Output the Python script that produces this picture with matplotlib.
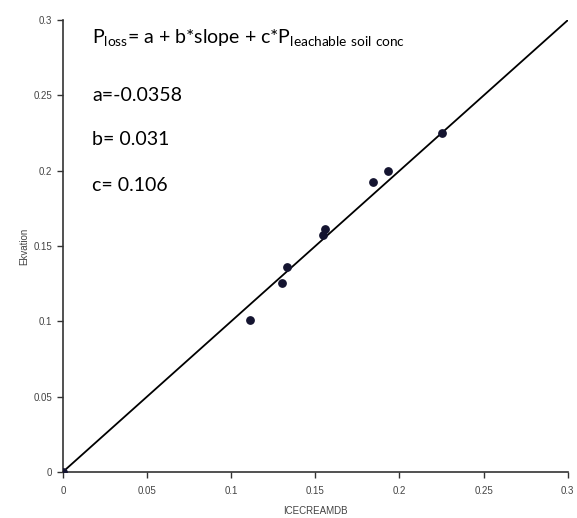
import numpy as np
import matplotlib.pyplot as plt
from matplotlib.ticker import MultipleLocator

plt.rcParams['font.family'] = ['Liberation Sans', 'DejaVu Sans']
plt.rcParams['mathtext.fontset'] = 'custom'
plt.rcParams['mathtext.rm'] = 'Lato'

icecream = [0.0, 0.111, 0.130, 0.1334, 0.1546, 0.1556, 0.1843, 0.1932, 0.2255]
ekvation = [0.0, 0.101, 0.1257, 0.1363, 0.1574, 0.1614, 0.1928, 0.2001, 0.2249]
line_x = [0.0, 0.3]
line_y = [0.0, 0.3]
tick_vals = [0, 0.05, 0.1, 0.15, 0.2, 0.25, 0.3]
tick_labels = ['0', '0.05', '0.1', '0.15', '0.2', '0.25', '0.3']

fig = plt.figure(figsize=(5.77, 5.18), dpi=100)
ax = fig.add_axes([0.109, 0.089, 0.875, 0.872])

ax.plot(line_x, line_y, color='black', lw=1.3)
ax.scatter(icecream, ekvation, color='#141430', s=28, zorder=3)

ax.set_xlim(0, 0.3)
ax.set_ylim(0, 0.3)
ax.set_xticks(tick_vals)
ax.set_xticklabels(tick_labels)
ax.set_yticks(tick_vals)
ax.set_yticklabels(tick_labels)

for s in ['top', 'right']:
    ax.spines[s].set_visible(False)
for s in ['left', 'bottom']:
    ax.spines[s].set_color('#333333')
    ax.spines[s].set_linewidth(1.2)
ax.tick_params(direction='out', length=4, width=1, colors='#333333',
               labelsize=7, labelcolor='#444444')
ax.tick_params(axis='x', pad=6)

ax.set_xlabel("ICECREAMDB", fontsize=7, color='#444444', labelpad=7)
ax.set_ylabel("Ekvation", fontsize=7, color='#444444', labelpad=3)

tfont = dict(fontsize=14, family='Lato', color='black', transform=ax.transAxes, va='center')
ax.text(0.058, 0.96, r"P$_{\mathrm{loss}}$= a + b*slope + c*P$_{\mathrm{leachable\ soil\ conc}}$", **tfont)
ax.text(0.058, 0.834, "a=-0.0358", **tfont)
ax.text(0.058, 0.735, "b= 0.031", **tfont)
ax.text(0.058, 0.633, "c= 0.106", **tfont)

plt.savefig("out.png", dpi=100)
plt.close()
